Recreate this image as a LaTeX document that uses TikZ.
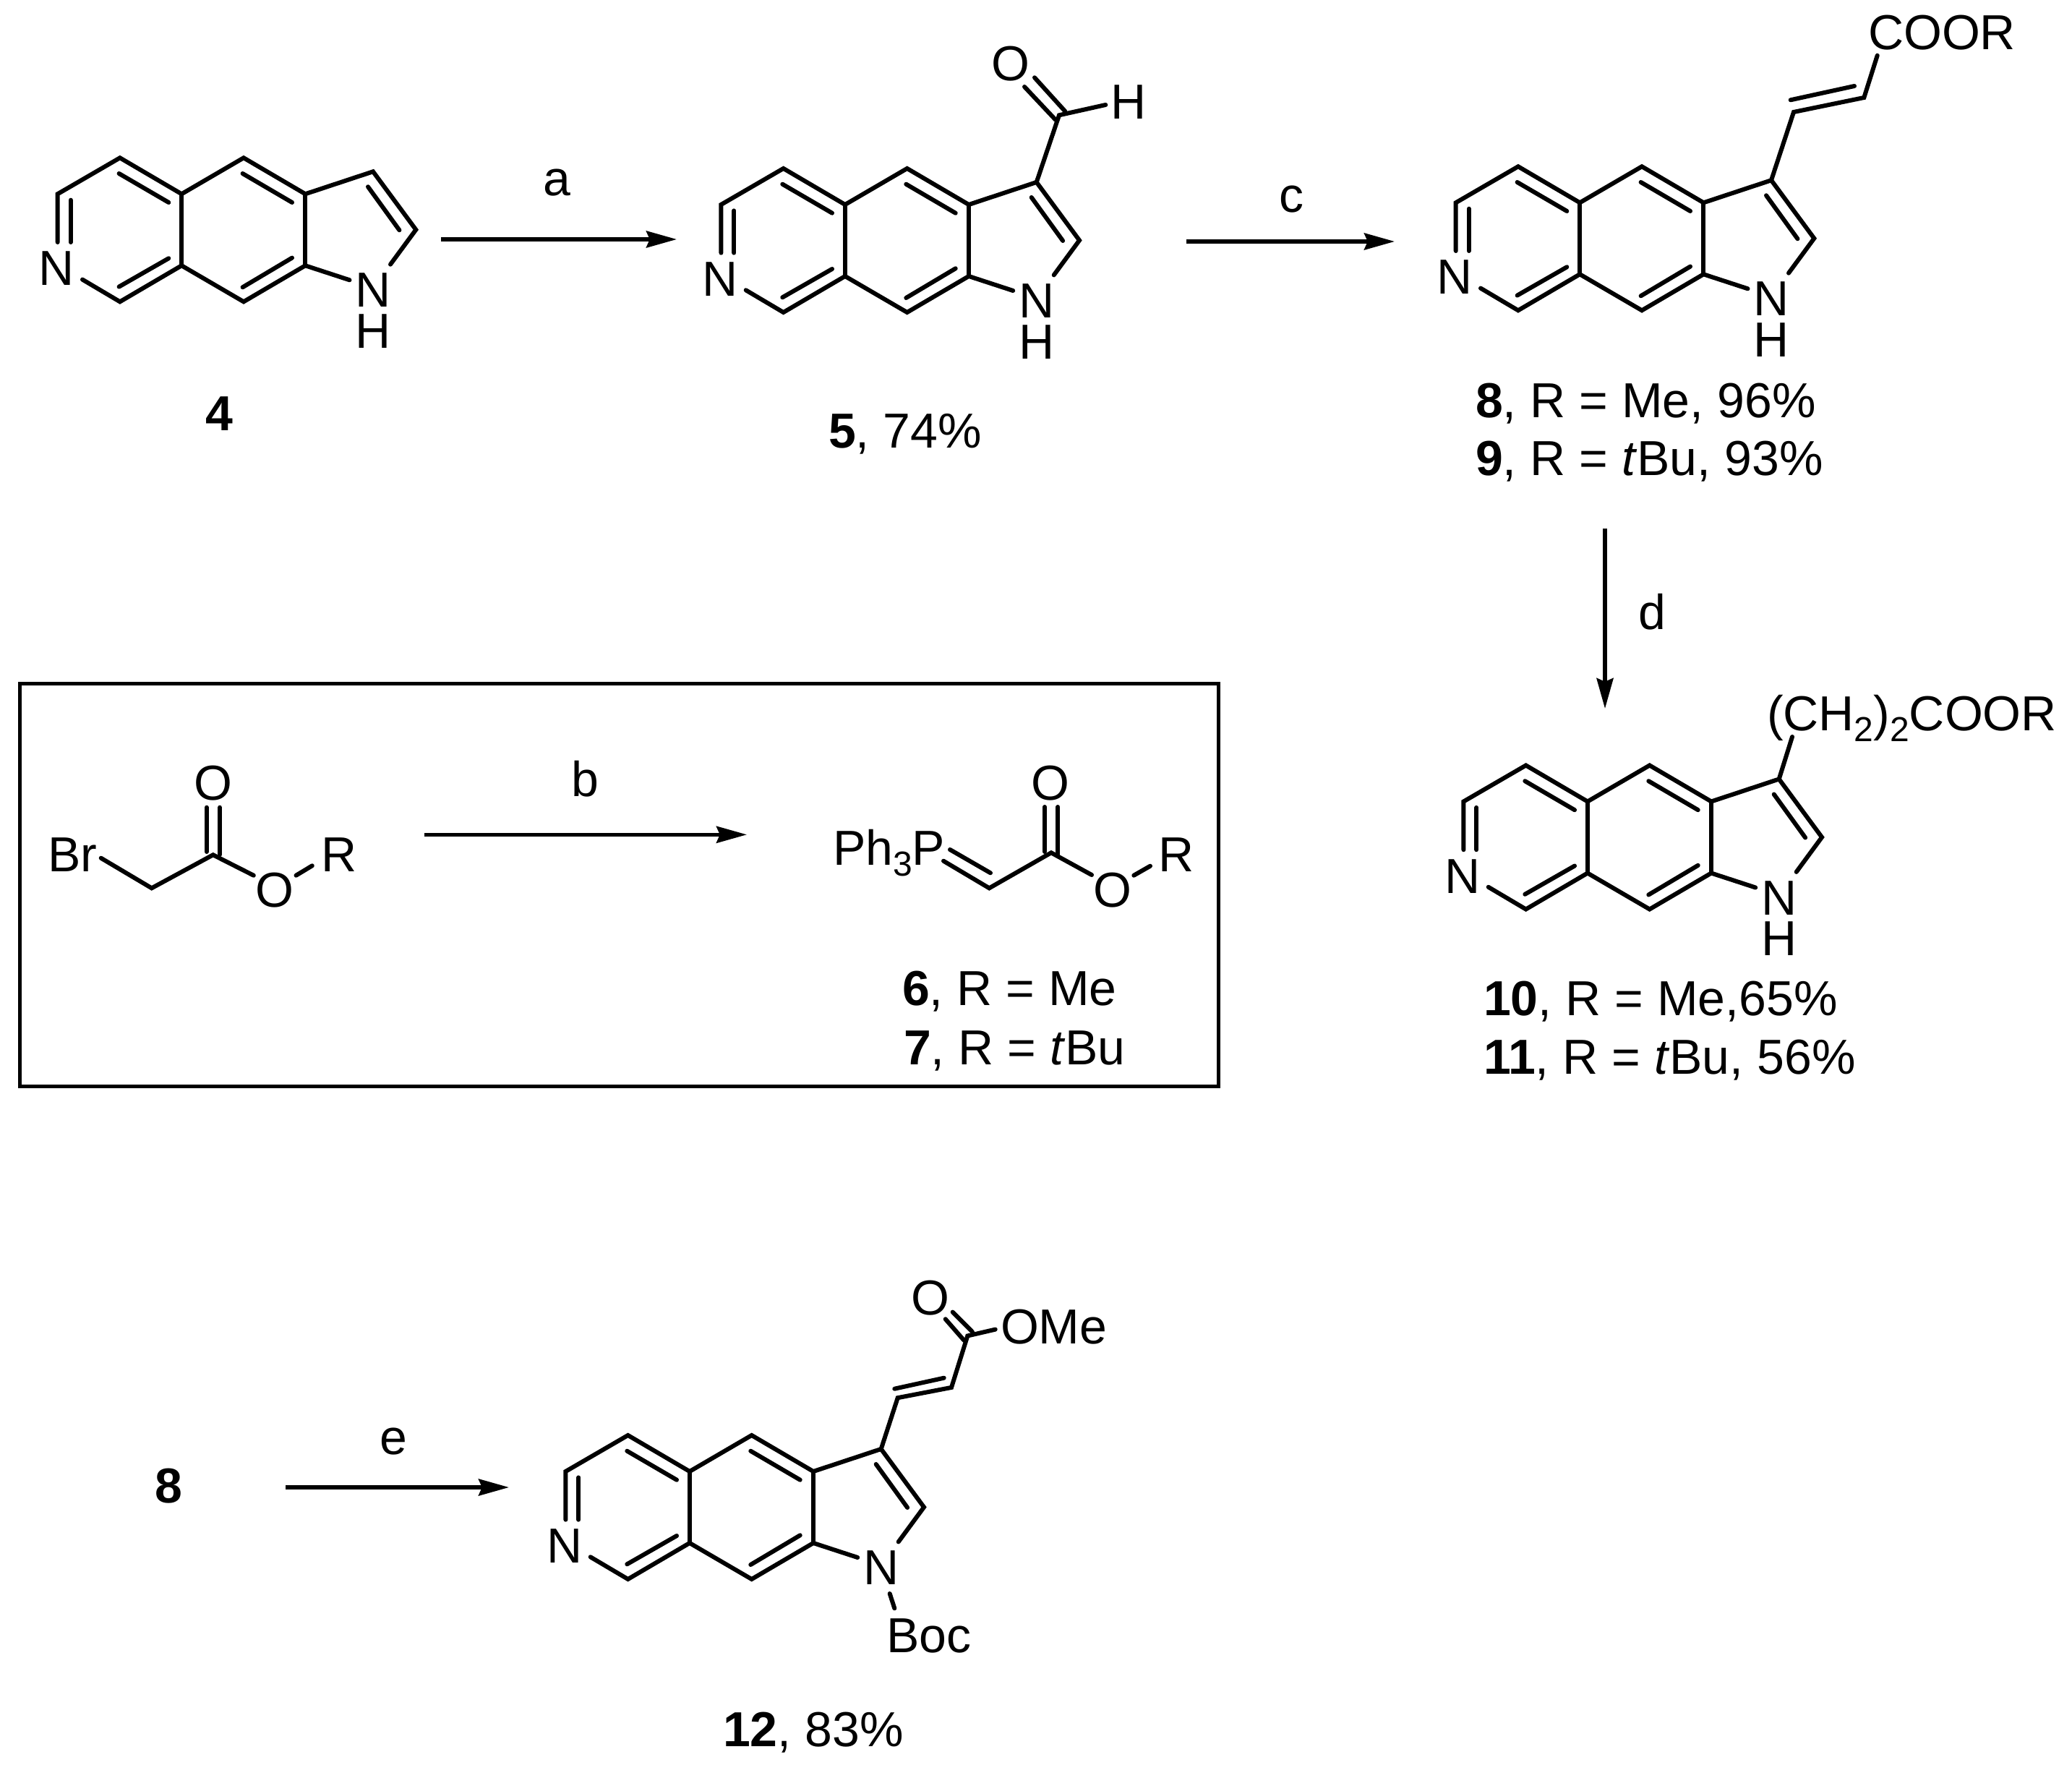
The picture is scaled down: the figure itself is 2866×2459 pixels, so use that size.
\documentclass[tikz,border=0pt]{standalone}
\usepackage{fontspec}
\setmainfont{Liberation Sans}
\usetikzlibrary{arrows.meta}
\newcommand{\sbs}[1]{\raisebox{-3.75pt}{\fontsize{12}{14}\selectfont #1}}
\tikzset{
  x=0.25pt,y=-0.25pt,
  bond/.style={line width=1.5pt,line cap=round,line join=miter},
  rxn/.style={line width=1.3pt,-{Stealth[length=10.5pt,width=5.75pt,inset=1.2pt]}},
  atom/.style={inner sep=0pt,outer sep=0pt,anchor=base,font=\fontsize{17}{20}\selectfont},
  txt/.style={inner sep=0pt,outer sep=0pt,anchor=base west,font=\fontsize{17}{20}\selectfont},
  framebox/.style={line width=1.25pt},
}
\newcommand{\tricycle}[3]{%
\begin{scope}[shift={(#2,#3)},name prefix=#1-]
  \coordinate (nb) at (79.7,335);
  \coordinate (b) at (79.7,268.3);
  \coordinate (a) at (165.9,218.3);
  \coordinate (e) at (251.2,268.3);
  \coordinate (f) at (337,218.3);
  \coordinate (g) at (422.3,268.3);
  \coordinate (j) at (516,237.3);
  \coordinate (k) at (575.3,317.7);
  \coordinate (nk) at (540,365.7);
  \coordinate (d) at (251.2,367.3);
  \coordinate (c) at (165.9,417.3);
  \coordinate (nc) at (114,386.6);
  \coordinate (h) at (422.3,367.3);
  \coordinate (i) at (337,417.3);
  \coordinate (nh) at (483.5,387.3);
  \coordinate (i1a) at (97.7,276.7);
  \coordinate (i1b) at (97.7,335);
  \coordinate (i2a) at (164.6,240);
  \coordinate (i2b) at (233.3,280);
  \coordinate (i3a) at (164.6,396.6);
  \coordinate (i3b) at (233.3,357.3);
  \coordinate (i4a) at (335.6,240);
  \coordinate (i4b) at (404,280);
  \coordinate (i5a) at (335.6,397.3);
  \coordinate (i5b) at (404,356.6);
  \coordinate (i6a) at (509,258.3);
  \coordinate (i6b) at (552.4,318.3);
  \draw[bond] (nb) -- (b) -- (a) -- (e) -- (f) -- (g) -- (j) -- (k) -- (nk);
  \draw[bond] (e) -- (d);
  \draw[bond] (nc) -- (c) -- (d) -- (i) -- (h) -- (nh);
  \draw[bond] (g) -- (h);
  \draw[bond] (i1a) -- (i1b);
  \draw[bond] (i2a) -- (i2b);
  \draw[bond] (i3a) -- (i3b);
  \draw[bond] (i4a) -- (i4b);
  \draw[bond] (i5a) -- (i5b);
  \draw[bond] (i6a) -- (i6b);
  \node[atom] (n6) at (78,395) {N};
  \node[atom] (n1) at (516,425) {N};
\end{scope}}
\begin{document}
\begin{tikzpicture}
\useasboundingbox (0,0) rectangle (2866,2459);

% compound 4
\tricycle{m4}{0}{0}
\node[atom] (m4H) at (516,481.7) {H};
\node[atom,font=\fontsize{17}{20}\selectfont\bfseries] (l4) at (303.6,595.7) {4};

% arrow a
\coordinate (a1) at (610,331);
\coordinate (a2) at (936,331);
\draw[rxn] (a1) -- (a2);
\node[atom] (la) at (770,271) {a};

% compound 5
\tricycle{m5}{917.7}{14.7}
\node[atom] (m5H) at (1433.7,496.4) {H};
\coordinate (c5) at (1465,159.3);
\coordinate (c5o1) at (1417,120);
\coordinate (c5o1b) at (1460,165.7);
\coordinate (c5o2) at (1431,107.3);
\coordinate (c5o2b) at (1473.3,154);
\coordinate (c5h) at (1529.3,145);
\draw[bond] (m5-j) -- (c5) -- (c5h);
\draw[bond] (c5o1) -- (c5o1b);
\draw[bond] (c5o2) -- (c5o2b);
\node[atom] (o5) at (1398.3,112) {O};
\node[atom] (h5) at (1561,165) {H};
\node[txt] (l5) at (1146,619.5) {\textbf{5}, 74\%};

% arrow c
\coordinate (c1) at (1641,334);
\coordinate (c2) at (1929,334);
\draw[rxn] (c1) -- (c2);
\node[atom] (lc) at (1786,294) {c};

% compound 8/9
\tricycle{m8}{1934}{12}
\node[atom] (m8H) at (2450,493.7) {H};
\coordinate (v1) at (2481,155);
\coordinate (v2) at (2578.3,135);
\coordinate (v3) at (2596.7,76.7);
\coordinate (v1i) at (2476.7,138.3);
\coordinate (v2i) at (2565,119);
\draw[bond] (m8-j) -- (v1) -- (v2) -- (v3);
\draw[bond] (v1i) -- (v2i);
\node[txt] (coor8) at (2584,68.3) {COOR};
\node[txt] (l8) at (2041,577.3) {\textbf{8}, R = Me, 96\%};
\node[txt] (l9) at (2041,657.3) {\textbf{9}, R = \textit{t}Bu, 93\%};

% arrow d
\coordinate (d1) at (2220,731);
\coordinate (d2) at (2220,980);
\draw[rxn] (d1) -- (d2);
\node[atom] (ld) at (2285,870) {d};

% compound 10/11
\tricycle{m10}{1944.7}{840.2}
\node[atom] (m10H) at (2460.7,1321.9) {H};
\coordinate (s10) at (2479,1019);
\draw[bond] (m10-j) -- (s10);
\node[txt] (sub10) at (2444,1010) {(CH\sbs{2})\sbs{2}COOR};
\node[txt] (l10) at (2052,1404.3) {\textbf{10}, R = Me,65\%};
\node[txt] (l11) at (2052,1485) {\textbf{11}, R = \textit{t}Bu, 56\%};

% framed box
\coordinate (bx1) at (27,945);
\coordinate (bx2) at (1685.7,1502.3);
\draw[framebox] (bx1) rectangle (bx2);

% bromoacetate
\coordinate (br1) at (139.7,1186.7);
\coordinate (br2) at (209.8,1228.3);
\coordinate (br3) at (294.7,1182.3);
\coordinate (br4) at (350.8,1210.7);
\coordinate (bro1) at (285.7,1116.7);
\coordinate (bro1b) at (285.7,1178);
\coordinate (bro2) at (304,1116.7);
\coordinate (bro2b) at (304,1182);
\coordinate (brr1) at (409.5,1210.7);
\coordinate (brr2) at (431.8,1197.3);
\draw[bond] (br1) -- (br2) -- (br3) -- (br4);
\draw[bond] (bro1) -- (bro1b);
\draw[bond] (bro2) -- (bro2b);
\draw[bond] (brr1) -- (brr2);
\node[txt] (brl) at (66,1205) {Br};
\node[atom] (bro) at (294.7,1106.7) {O};
\node[atom] (brO) at (380,1254.7) {O};
\node[txt] (brR) at (444,1205) {R};

% arrow b
\coordinate (b1) at (587,1154.3);
\coordinate (b2) at (1033,1154.3);
\draw[rxn] (b1) -- (b2);
\node[atom] (lb) at (809,1101.7) {b};

% ylide
\coordinate (y1a) at (1305,1190.7);
\coordinate (y1b) at (1368.3,1228.3);
\coordinate (y2a) at (1314,1175);
\coordinate (y2b) at (1370,1207.3);
\coordinate (y3) at (1454,1179.3);
\coordinate (y4) at (1510,1210);
\coordinate (yo1) at (1445,1116);
\coordinate (yo1b) at (1445,1178);
\coordinate (yo2) at (1463.3,1116);
\coordinate (yo2b) at (1463.3,1182);
\coordinate (yr1) at (1568.3,1210.7);
\coordinate (yr2) at (1591,1197.7);
\draw[bond] (y1a) -- (y1b) -- (y3) -- (y4);
\draw[bond] (y2a) -- (y2b);
\draw[bond] (yo1) -- (yo1b);
\draw[bond] (yo2) -- (yo2b);
\draw[bond] (yr1) -- (yr2);
\node[txt] (ph3p) at (1152,1196.7) {Ph\sbs{3}P};
\node[atom] (yo) at (1453.3,1106.7) {O};
\node[atom] (yO) at (1539.3,1254.7) {O};
\node[txt] (yR) at (1602,1205) {R};
\node[txt] (l6) at (1248,1390.7) {\textbf{6}, R = Me};
\node[txt] (l7) at (1250,1472.3) {\textbf{7}, R = \textit{t}Bu};

% arrow e
\node[atom,font=\fontsize{17}{20}\selectfont\bfseries] (s8) at (233,2078) {8};
\coordinate (e1) at (395,2057);
\coordinate (e2) at (704,2057);
\draw[rxn] (e1) -- (e2);
\node[atom] (le) at (544,2011) {e};

% compound 12
\tricycle{m12}{702.7}{1766.7}
\coordinate (w1) at (1241.7,1933.2);
\coordinate (w2) at (1316,1918.9);
\coordinate (w3) at (1338.3,1847.5);
\coordinate (w1i) at (1237.3,1920.7);
\coordinate (w2i) at (1305.7,1905.7);
\coordinate (wo1) at (1307.7,1824.3);
\coordinate (wo1b) at (1333.3,1853.6);
\coordinate (wo2) at (1317.7,1814.6);
\coordinate (wo2b) at (1345,1842);
\coordinate (wm) at (1376.7,1838.6);
\coordinate (bc1) at (1230.7,2204);
\coordinate (bc2) at (1237.3,2224.3);
\draw[bond] (m12-j) -- (w1) -- (w2) -- (w3) -- (wm);
\draw[bond] (w1i) -- (w2i);
\draw[bond] (wo1) -- (wo1b);
\draw[bond] (wo2) -- (wo2b);
\draw[bond] (bc1) -- (bc2);
\node[atom] (o12) at (1287.3,1818) {O};
\node[txt] (ome) at (1384,1858) {OMe};
\node[txt] (boc) at (1226,2285.7) {Boc};
\node[txt] (l12) at (1000,2415.5) {\textbf{12}, 83\%};
\end{tikzpicture}
\end{document}
